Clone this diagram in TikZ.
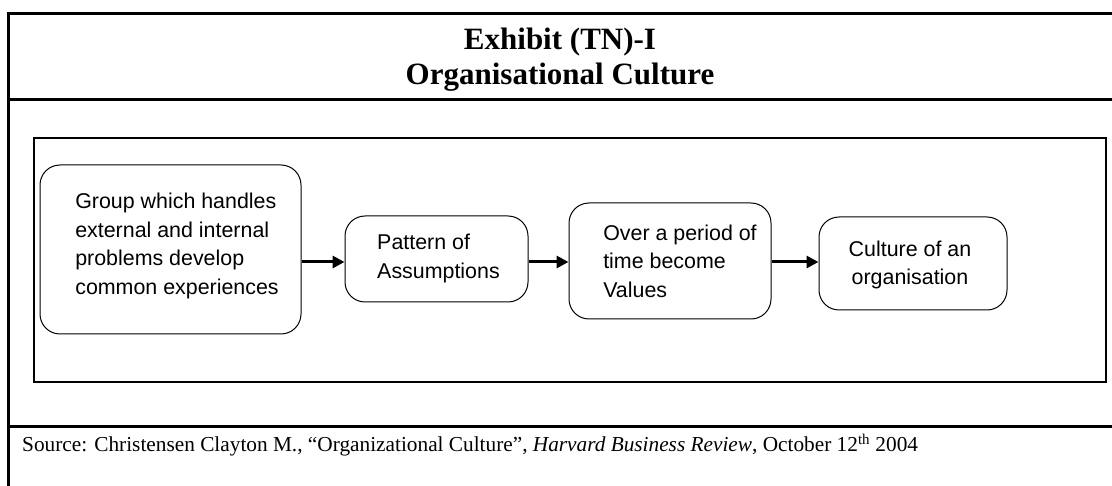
\documentclass[tikz,border=0pt]{standalone}
\usepackage{fontspec}
\setmainfont{Liberation Serif}
\newfontfamily\boxfont{Liberation Sans}
\usetikzlibrary{arrows.meta}
\begin{document}
\begin{tikzpicture}[x=1pt,y=-1pt,
  frame/.style={line width=3pt},
  stage/.style={draw, line width=1pt, rounded corners=20pt, inner sep=0pt},
  stagetext/.style={font=\boxfont\fontsize{21.4}{28.5}\selectfont, align=left, inner sep=0pt},
  flow/.style={line width=3pt, -{Triangle[length=12pt,width=12pt]}}]
  \useasboundingbox (0,0) rectangle (1112,486);
  % outer exhibit frame and its bands
  \draw[frame] (8,486) -- (8,14) -- (1114,14);
  \draw[frame] (8,100) -- (1114,100);
  \draw[frame] (8,427) -- (1114,427);
  % title
  \node[font=\bfseries\fontsize{31}{35}\selectfont, align=center] (title) at (560,59.5)
    {Exhibit (TN)-I\\Organisational Culture};
  % diagram panel
  \draw[line width=2pt] (34,138) rectangle (1106,382);
  % stages
  \node[stage, minimum width=261pt, minimum height=169pt] (b1) at (170.5,249.5) {};
  \node[stagetext] (t1) at (177,246) {Group which handles\\external and internal\\problems develop\\common experiences};
  \node[stage, minimum width=183pt, minimum height=86pt] (b2) at (436.5,259) {};
  \node[stagetext] (t2) at (438.5,258.5) {Pattern of\\Assumptions};
  \node[stage, minimum width=202pt, minimum height=116pt] (b3) at (670,261) {};
  \node[stagetext] (t3) at (680,261) {Over a period of\\time become\\Values};
  \node[stage, minimum width=188pt, minimum height=93pt] (b4) at (913,263.5) {};
  \node[stagetext, align=center] (t4) at (910,265) {Culture of an\\organisation};
  % connectors
  \coordinate (ay) at (0,262);
  \draw[flow] (b1.east |- ay) -- (b2.west |- ay);
  \draw[flow] (b2.east |- ay) -- (b3.west |- ay);
  \draw[flow] (b3.east |- ay) -- (b4.west |- ay);
  % source line
  \node[anchor=base west, inner sep=0pt, font=\fontsize{21.3}{24}\selectfont] (src) at (22,452)
    {Source: Christensen Clayton M., ``Organizational Culture'', \textit{Harvard Business Review}, October 12\textsuperscript{th} 2004};
\end{tikzpicture}
\end{document}
